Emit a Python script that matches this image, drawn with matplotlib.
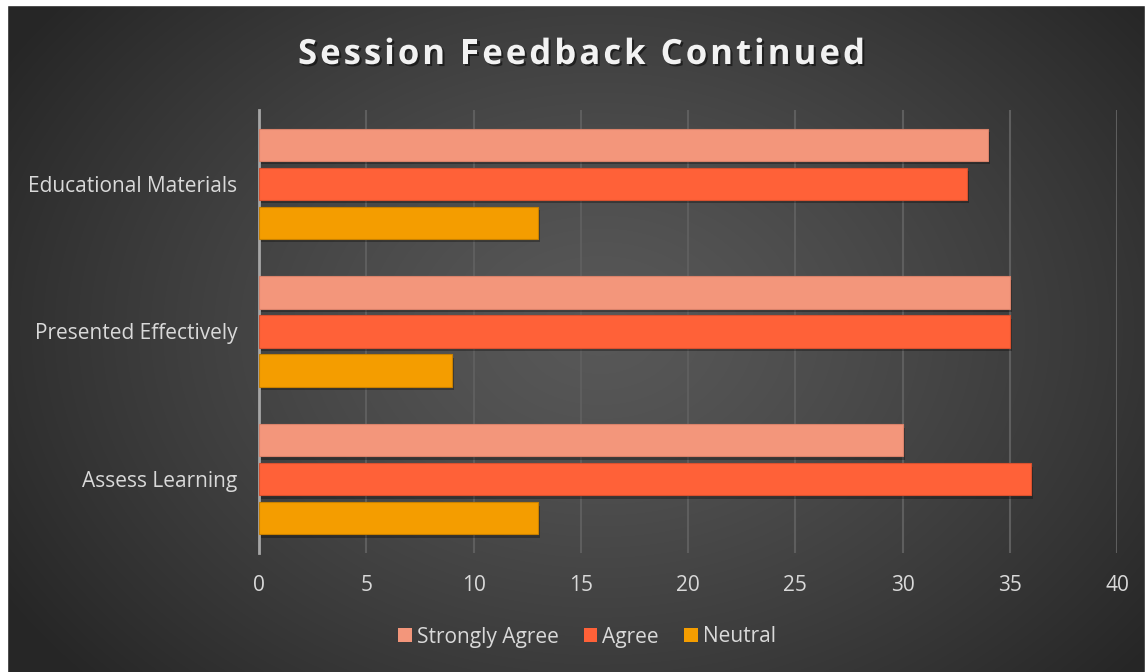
import numpy as np
import matplotlib
matplotlib.use('Agg')
import matplotlib.pyplot as plt
import matplotlib.patheffects as pe
from matplotlib.patches import Rectangle
from matplotlib.font_manager import FontProperties

categories = ['Assess Learning', 'Presented Effectively', 'Educational Materials']
strongly_agree = [30, 35, 34]
agree = [36, 35, 33]
neutral = [13, 9, 13]
series_names = ['Strongly Agree', 'Agree', 'Neutral']
colors = ['#F3967B', '#FF6138', '#F49D00']
edge_colors = ['#D9826A', '#D9512F', '#C98100']
xticks = [0, 5, 10, 15, 20, 25, 30, 35, 40]
title = 'Session Feedback Continued'

plt.rcParams['font.family'] = ['Open Sans', 'DejaVu Sans']
text_col = '#D9D9D9'

W, H = 1147, 672
fig = plt.figure(figsize=(W / 100, H / 100), dpi=100)

# radial gradient background
bg = fig.add_axes([0, 0, 1, 1], zorder=-10)
yy, xx = np.mgrid[0:H, 0:W]
r = np.sqrt(((xx - 600) / 700.0) ** 2 + ((yy - 330) / 520.0) ** 2)
r = np.clip(r, 0, 1)
lum = 0.345 - (0.345 - 0.15) * r ** 1.3
bg.imshow(np.dstack([lum, lum, lum]), extent=[0, W, H, 0], aspect='auto', interpolation='bilinear')
bg.set_xlim(0, W)
bg.set_ylim(H, 0)
bg.axis('off')
bg.add_patch(Rectangle((0, 0), 7, H, color='white', zorder=5))
bg.add_patch(Rectangle((0, 0), W, 5, color='white', zorder=5))
bg.add_patch(Rectangle((W - 2, 0), 2, H, color='white', zorder=5))

ax = fig.add_axes([259 / W, 1 - 553 / H, (1117 - 259) / W, (553 - 110) / H])
ax.patch.set_alpha(0)

y = np.arange(len(categories))
bar_h = 0.217
step = 0.264
shadow = [pe.SimplePatchShadow(offset=(1.5, -2.5), shadow_rgbFace='black', alpha=0.3), pe.Normal()]
for i, vals in enumerate([strongly_agree, agree, neutral]):
    ax.barh(y + step * (1 - i), vals, height=bar_h, color=colors[i],
            edgecolor=edge_colors[i], linewidth=0.8, label=series_names[i],
            zorder=3, path_effects=shadow)

ax.set_xlim(0, 40)
ax.set_ylim(-0.5, 2.5)
ax.set_xticks(xticks)
ax.set_yticks(y)
ax.set_yticklabels(categories)
ax.tick_params(axis='both', length=0, colors=text_col, labelsize=15)
ax.tick_params(axis='x', pad=16)
ax.tick_params(axis='y', pad=15.5)
ax.grid(axis='x', color='#5E5E5E', linewidth=1.5, zorder=0)
ax.set_axisbelow(True)
for s in ['top', 'right', 'bottom']:
    ax.spines[s].set_visible(False)
ax.spines['left'].set_color('#A6A6A6')
ax.spines['left'].set_linewidth(2)

# title with letter spacing
renderer = fig.canvas.get_renderer()
prop = FontProperties(family=['Open Sans', 'DejaVu Sans'], weight='bold', size=25)
def tw(s):
    return renderer.get_text_width_height_descent(s, prop, ismath=False)[0]
bar_w = tw('|')
natural = tw(title)
x0, x1 = 298, 865
spacing = (x1 - x0 - natural) / (len(title) - 1)
tshadow = [pe.withSimplePatchShadow(offset=(1.5, -1.5), shadow_rgbFace='black', alpha=0.5)]
for i, ch in enumerate(title):
    if ch == ' ':
        continue
    px = x0 + (tw(title[:i] + '|') - bar_w if i else 0) + i * spacing
    fig.text(px / W, 1 - 64 / H, ch, ha='left', va='baseline', fontproperties=prop,
             color='#F2F2F2', path_effects=tshadow)

handles, labels = ax.get_legend_handles_labels()
leg = fig.legend(handles, labels, loc='center', bbox_to_anchor=(587 / W, 1 - 637 / H),
                 ncol=3, frameon=False, fontsize=15, handlelength=0.65, handleheight=0.65,
                 handletextpad=0.25, columnspacing=1.2)
for t in leg.get_texts():
    t.set_color(text_col)
for hnd in leg.legend_handles:
    hnd.set_path_effects([])
    hnd.set_edgecolor('none')

fig.savefig('out.png', dpi=100)
